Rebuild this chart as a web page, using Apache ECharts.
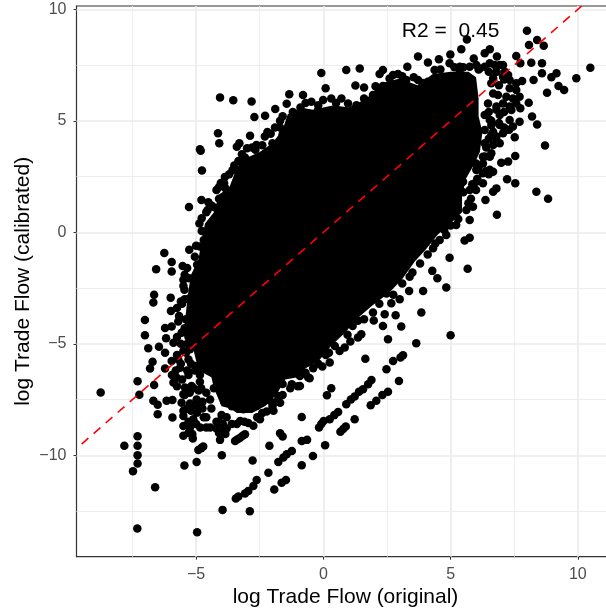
<!DOCTYPE html>
<html><head><meta charset="utf-8">
<style>html,body{margin:0;padding:0;background:#fff}#c{width:606px;height:613px}</style>
<script src="https://cdn.jsdelivr.net/npm/echarts@6/dist/echarts.min.js"></script>
</head><body><div id="c"></div>
<script>
const xTicks=[-5,0,5,10], yTicks=[-10,-5,0,5,10];
const xMinor=[-7.5,-2.5,2.5,7.5], yMinor=[-12.5,-7.5,-2.5,2.5,7.5];
const xRange=[-9.7,11.44], yRange=[-14.55,10.15];
const refLine=[[-9.5,-9.5],[10.15,10.15]];
const annotation=[[5,9,'R2 =  0.45']];
// outline of the saturated black core of the cloud
const coreOutline=[[-4.9,-6.2],[-5.1,-5.3],[-5.5,-4.6],[-5.4,-3.6],[-5.3,-2.6],[-5.2,-1.9],[-4.9,-1.2],[-4.8,-0.4],[-4.65,0.4],[-4.3,0.9],[-4.1,1.7],[-3.7,2.0],[-3.4,2.9],[-3.1,3.3],[-2.5,3.6],[-2.0,4.0],[-1.6,4.6],[-1.4,5.3],[-0.9,5.6],[-0.4,5.5],[0.4,5.7],[1.0,5.6],[1.7,6.0],[2.3,6.7],[3.0,6.9],[3.7,6.6],[4.3,7.1],[5.0,7.2],[5.7,7.2],[6.0,6.95],[6.1,6.0],[6.1,5.2],[6.25,4.5],[6.15,3.6],[5.9,3.0],[5.6,2.4],[5.45,1.6],[5.45,0.9],[5.0,0.4],[4.5,-0.1],[4.0,-0.8],[3.6,-1.3],[3.1,-2.1],[2.6,-2.7],[1.9,-3.3],[1.3,-3.9],[0.85,-4.5],[0.3,-5.1],[-0.2,-5.8],[-0.7,-6.1],[-1.0,-6.5],[-1.5,-6.6],[-1.85,-7.3],[-2.3,-7.8],[-2.8,-8.1],[-3.4,-8.1],[-3.65,-7.9],[-4.0,-7.8],[-4.3,-7.0],[-4.4,-6.5]];
const upperLeft=[[-4.06,6.05],[-3.54,5.92],[-2.82,5.87],[-1.34,6.19],[-1.44,5.77],[-1.89,5.53],[-2.29,5.23],[-2.71,5.17],[-4.14,4.44],[-4.09,3.99],[-2.88,4.33],[-4.85,3.72],[-4.82,3.66],[-4.77,2.77],[-5.28,1.14],[-4.79,1.45],[-4.52,1.35],[-4.78,0.63],[-4.87,0.40],[-4.78,0.06],[-4.85,-0.64],[-5.27,-0.78],[-6.25,-0.93],[-6.57,-1.66],[-5.96,-1.33],[-5.96,-1.76],[-5.53,-1.51],[-6.65,-2.80],[-6.68,-3.15],[-6.0,-2.93],
[-3.4,3.84],[-3.3,3.99],[-3.0,3.77],[-2.63,3.92],[-2.67,3.7],[-2.2,4.5],[-2.07,4.42],[-2.0,3.99],[-2.2,3.6],[-1.6,3.4],[-1.94,3.5],[-3.34,3.2],[-3.08,3.35],[-2.55,3.05],[-3.02,2.57],[-3.57,2.78],[-3.87,2.48],[-4.03,2.21],[-3.44,2.21],[-4.1,2.03],[-3.84,1.96],[-4.34,1.15],[-4.55,1.0],[-4.16,1.0],[-4.22,0.48],[-4.7,-0.34],[-4.96,-1.46],[-4.83,-1.4],[-5.5,-2.13],[-5.28,-2.06],[-5.46,-2.58],[-5.26,-2.96],[-5.6,-3.1],
[-1.6,4.4],[-1.1,5.1],[-1.7,5.0],[-1.3,4.6],[-0.9,5.6],[-0.95,4.3],
[-4.6,0.9],[-4.4,1.2],[-4.1,1.5],[-4.2,1.9],[-3.9,2.2],[-3.7,2.6],[-3.5,3.0],[-3.2,3.5],[-3.05,3.2],[-2.8,3.8],[-2.4,3.9],[-2.3,4.3],[-1.9,4.7],[-1.7,4.7],[-1.6,5.2],[-1.2,5.4],[-5.0,-0.6],[-5.05,-1.1],[-5.35,-1.6],[-5.45,-1.9],[-5.5,-2.4],[-5.45,-3.0]];
const lowerLeft=[[-8.75,-7.19],[-7.30,-6.68],[-7.23,-7.29],[-7.01,-3.93],[-7.01,-4.62],[-6.88,-5.20],[-6.46,-5.13],[-6.71,-5.81],[-6.81,-6.11],[-6.65,-6.85],[-6.68,-7.56],[-6.51,-7.74],[-6.51,-8.16],[-6.16,-7.56],[-5.93,-7.52],[-5.93,-8.31],[-7.30,-9.15],[-7.82,-9.57],[-7.30,-9.57],[-7.30,-10.0],[-7.30,-10.37],[-7.48,-10.72],[-6.61,-11.44],[-7.31,-13.29],[-4.96,-13.45],[-5.46,-10.46],[-4.98,-10.30],[-3.99,-10.0],[-2.78,-10.24],[-3.96,-12.45],[-2.89,-12.51],
[-4.91,-9.76],[-4.8,-9.68],[-4.72,-9.61],[-5.5,-9.13],[-5.13,-9.25],[-4.06,-9.31],[-3.8,-8.8],[-3.95,-8.9],[-4.45,-8.76],[-4.84,-8.76],[-5.24,-8.76],[-5.5,-8.69],[-5.11,-8.39],[-5.5,-8.24],[-4.97,-8.09],[-4.6,-8.3],[-4.2,-8.5],[-4.75,-7.9],[-4.4,-7.9],[-4.0,-8.2],[-5.5,-7.26],[-5.57,-7.64],[-5.24,-7.68],[-4.98,-7.5],[-5.44,-6.96],[-5.18,-6.89],[-5.89,-6.74],[-5.76,-6.52],[-5.96,-5.77],[-6.22,-6.11],[-5.63,-6.07],[-6.22,-4.29],[-5.96,-4.23],[-6.18,-4.75],[-5.89,-4.95],[-6.22,-5.4],[-5.5,-5.32],[-5.24,-5.25],[-5.99,-3.53],[-5.57,-4.5],[-5.67,-3.75],[-5.4,-3.9],[-5.2,-3.4],[-5.3,-4.7],[-5.0,-5.1],[-5.7,-5.7],[-5.3,-5.7],[-5.0,-6.0],[-5.3,-6.4],[-4.85,-6.7],[-4.6,-7.2],[-4.9,-7.1],
[-5.75,-3.4],[-5.55,-3.2],[-5.7,-4.0],[-5.45,-4.3],[-5.75,-4.7],[-5.6,-5.0],[-5.35,-5.0],[-5.75,-5.5],[-5.4,-5.4],[-5.6,-5.9],[-5.2,-5.9],[-5.95,-6.4],[-5.8,-6.2],[-5.35,-6.2],[-5.05,-6.2],[-4.85,-6.4],[-5.75,-6.9],[-5.55,-6.6],[-5.45,-7.3],[-5.25,-7.2],[-5.1,-7.0],[-4.8,-7.0],
[-5.35,-7.9],[-5.5,-8.0],[-5.2,-8.0],[-5.0,-7.8],[-4.75,-7.6],[-4.45,-7.5],[-4.3,-7.0],[-4.7,-8.3],[-5.3,-8.5],[-5.0,-8.6],[-4.6,-8.75],[-4.2,-8.8],[-4.1,-8.5],[-3.95,-8.6],[-3.85,-9.05],[-4.1,-9.0],[-5.3,-9.0],[-5.15,-9.05],
[-3.27,-8.46],[-2.75,-8.68],[-2.49,-8.39],[-3.14,-7.94],[-2.62,-7.79],[-2.23,-8.04],[-1.96,-8.0],[-1.70,-7.64],[-1.77,-7.34],[-2.1,-7.56],[-1.44,-6.37],[-1.24,-6.81],[-0.92,-6.89],[-0.92,-6.44],[-3.6,-7.8],[-3.3,-7.4],[-2.9,-7.5],[-2.5,-7.2],[-2.0,-7.0],[-3.9,-7.6],[-2.35,-7.6],[-1.6,-6.8],
[-3.6,-8.6],[-3.4,-8.6],[-3.1,-8.5],[-2.95,-8.55],[-2.6,-8.3],[-2.4,-8.1],[-2.0,-7.8],[-1.85,-7.6],[-1.6,-7.3],[-1.3,-7.0],[-1.0,-6.9],[-0.6,-6.5],[-3.8,-8.3]];
const lowerBands=[[-3.47,-9.36],[-3.37,-9.28],[-3.27,-9.21],[-3.17,-9.13],[-3.08,-9.06],[-3.44,-11.94],[-3.34,-11.85],[-3.08,-11.72],[-2.95,-11.6],[-2.75,-11.38],[-2.62,-11.11],[-2.16,-10.78],[-1.93,-11.54],[-1.64,-11.23],[-1.47,-11.11],[-2.12,-9.57],[-1.70,-9.01],[-1.60,-9.16],[-1.77,-10.30],[-1.57,-10.1],[-1.44,-9.96],[-1.24,-9.81],[-0.85,-9.36],[-0.85,-10.45],[-0.85,-8.28],[-0.64,-9.31],[0.07,-9.55],[-0.41,-10.03],
[0.31,-6.99],[0.14,-7.31],[2.97,-6.67],[1.89,-6.62],[1.76,-6.82],[1.56,-7.04],[1.4,-7.15],[2.54,-7.15],[2.32,-7.3],[2.08,-7.56],[1.86,-7.76],[1.23,-7.37],[1.08,-7.5],[0.9,-7.71],[0.58,-8.06],[0.43,-8.2],[0.25,-8.39],[0.01,-8.46],[-0.08,-8.6],[-0.17,-8.76],[1.23,-8.39],[0.88,-8.71],[0.78,-8.82],[0.67,-8.95],
[5.0,-4.62],[3.85,-3.6],[3.65,-4.98],[3.06,-4.23],[2.84,-3.72],[2.34,-4.2],[2.41,-3.68],[1.98,-3.96],[2.54,-4.8],[1.36,-3.97],[3.13,-5.51],[3.03,-5.62],[2.74,-5.77],[2.48,-6.14],[1.65,-5.67],[1.49,-4.57],[1.36,-4.72],[1.06,-4.9],[0.84,-5.17],[0.64,-5.32],[0.22,-5.4],[0.25,-5.84],[-0.04,-6.02],[-0.54,-6.55],[-0.2,-5.9]];
const upperRight=[[8.0,9.04],[5.64,8.65],[8.4,8.62],[8.08,8.4],[8.66,8.37],[5.42,8.21],[6.54,8.21],[6.34,8.03],[4.99,7.98],[7.58,7.91],[3.72,7.88],[6.82,7.88],[5.91,7.79],[4.54,7.76],[4.11,7.62],[8.17,7.61],[8.59,7.58],[7.74,7.58],[10.49,7.38],[3.3,7.43],[1.43,7.35],[0.9,7.28],[-0.08,7.15],[2.34,7.28],[2.21,7.1],[8.59,7.13],[9.16,7.13],[8.96,6.95],[9.94,6.91],[8.26,6.83],[7.81,6.79],[9.24,6.56],[9.46,6.38],[8.79,6.26],[1.26,6.58],[1.6,6.49],[0.09,6.46],[8.07,5.81],[8.2,5.19],[8.4,4.84],[8.71,3.89],[8.37,1.82],[8.83,1.51],[7.54,3.42],[7.52,4.26],[7.71,4.96],[7.74,5.56],[7.26,3.17],[6.99,3.12],[7.22,2.38],[7.54,2.2],[6.8,1.97],[6.67,1.82],[6.37,1.45],[6.82,0.79],[5.75,-0.24],[5.55,-0.37],[4.96,-1.14],[5.67,-1.63],[4.28,-1.73],[4.48,-2.06],[4.83,-2.48],[3.92,-2.63],[3.37,-2.63],[3.0,-3.0],[2.67,-3.18],
[-0.47,5.86],[-0.21,5.49],[-0.01,5.93],[0.31,6.0],[0.71,6.0],[0.97,5.78],[0.18,5.19],[-0.8,6.16],[1.95,6.16],[2.34,6.16],[2.34,6.56],[2.74,7.06],[2.93,7.1],[3.26,6.83],[3.72,6.83],[4.24,6.53],[4.37,7.28],[4.96,7.58],[5.36,7.28],[5.75,7.43],[6.34,7.43],[6.93,7.5],[7.13,7.2],[6.67,6.91],[7.32,6.83],[7.58,6.38],[7.71,6.08],[6.86,6.16],[7.19,6.08],[6.47,5.78],[7.06,5.78],[7.39,5.49],[6.93,5.26],[7.32,5.04],[6.34,5.26],[7.06,4.44],[6.67,4.51],[6.34,4.59],[6.67,3.92],[6.6,3.54],[6.27,3.09],[6.67,2.72],[6.01,2.8],[6.27,2.2],[5.49,2.27],[5.75,1.9],[5.88,1.15],[5.62,1.0],[5.75,0.55],[5.22,0.33],[4.83,-0.12],[4.57,-0.34],[4.31,-0.72],[3.39,-1.99],[2.48,-2.74],[6.9,6.6],[7.1,6.85],
[6.5,5.4],[6.8,5.5],[7.1,5.4],[6.6,5.0],[6.9,4.9],[7.1,4.7],[6.6,4.8],[6.5,4.2],[6.8,4.3],[7.3,4.6],[6.4,3.8],[6.35,3.4],[6.1,2.9],[6.4,2.75],[6.5,2.6],[6.05,2.4],[5.85,2.15],[6.0,1.9],[5.5,1.8],[5.8,1.5],[5.7,1.3],[5.3,0.6],[5.0,0.3],[4.75,0.1],[4.4,-0.5],[4.1,-1.0],[3.8,-1.4],[3.5,-1.8],[3.1,-2.3],[2.75,-2.8],[2.2,-3.2],[1.95,-3.6],[1.6,-3.9],[1.15,-4.2],[0.95,-4.6],[0.45,-5.1],[0.1,-5.5],[-0.4,-6.1],[-0.7,-6.3],
[-0.7,5.8],[-0.2,5.7],[0.5,5.8],[1.3,5.7],[1.6,6.0],[2.05,6.55],[2.6,6.9],[3.1,7.0],[3.55,6.95],[3.9,6.7],[4.1,6.75],[4.6,7.3],[5.15,7.4],[5.5,7.4],[6.1,7.3],[6.5,7.2],[6.8,7.2],
[7.32,6.46],[7.58,6.68],[7.06,6.98],[6.8,7.2],[6.6,6.68],[6.67,6.23],[7.45,6.0],[7.58,5.78],[7.32,5.64],[6.8,5.64],[6.54,5.04],[6.93,4.81],[7.45,4.74],[7.19,4.59],[6.8,4.14],[6.6,4.36],[6.34,3.99],[6.93,3.99],[6.54,3.39],[6.27,3.39],[6.0,3.09],[6.27,2.65],[6.54,2.8],[6.01,2.27],[5.36,7.43],[6.01,7.5],[6.14,7.35],[6.54,7.58],[6.73,7.5],[7.06,7.5],[7.26,7.06]];
const points=[...upperLeft,...lowerLeft,...lowerBands,...upperRight];

const ink='#333333', grey='#4d4d4d', gridCol='#ebebeb', font='"Liberation Sans", Arial, sans-serif';
const axisCommon={
  axisLine:{show:true,onZero:false,lineStyle:{color:ink,width:1.1}},
  axisTick:{show:true,length:3,lineStyle:{color:ink,width:1}},
  splitLine:{show:false},
  nameLocation:'middle',
  nameMoveOverlap:false,
  nameTextStyle:{fontFamily:font,fontSize:21,color:'#000'}
};
const mkLines=(axis,vals,w)=>({silent:true,symbol:'none',animation:false,label:{show:false},
  lineStyle:{color:gridCol,width:w,type:'solid'},data:vals.map(v=>({[axis]:v}))});
const lab=(ticks)=>({color:grey,fontSize:16,fontFamily:font,customValues:ticks,
  formatter:v=>String(v).replace('-','\u2212')});
const option={
  animation:false,
  backgroundColor:'#fff',
  grid:{left:76.5,top:6,right:-8.5,bottom:56.3,outerBoundsMode:'none',show:true,borderColor:ink,borderWidth:1.1,backgroundColor:'transparent'},
  xAxis:{type:'value',min:xRange[0],max:xRange[1],name:'log Trade Flow (original)',nameGap:30,
    ...axisCommon,axisTick:{...axisCommon.axisTick,customValues:xTicks},axisLabel:{...lab(xTicks),margin:10}},
  yAxis:{type:'value',min:yRange[0],max:yRange[1],name:'log Trade Flow (calibrated)',nameGap:43,
    ...axisCommon,axisTick:{...axisCommon.axisTick,customValues:yTicks},axisLabel:{...lab(yTicks),margin:10}},
  series:[
    {type:'scatter',name:'gridMinor',data:[],markLine:mkLines('xAxis',xMinor,0.9)},
    {type:'scatter',name:'gridMinorY',data:[],markLine:mkLines('yAxis',yMinor,0.9)},
    {type:'scatter',name:'gridMajor',data:[],markLine:mkLines('xAxis',xTicks,1.7)},
    {type:'scatter',name:'gridMajorY',data:[],markLine:mkLines('yAxis',yTicks,1.7)},
    {type:'custom',name:'core',zlevel:1,z:3,silent:true,data:[coreOutline[0]],
      renderItem:(p,api)=>({type:'polygon',shape:{points:coreOutline.map(c=>api.coord(c))},style:{fill:'#000'}})},
    {type:'scatter',name:'points',zlevel:1,z:4,symbolSize:8.5,silent:true,itemStyle:{color:'#000',opacity:1},data:points},
    {type:'line',name:'fit',zlevel:1,z:5,silent:true,symbol:'none',data:refLine,
      lineStyle:{color:'#ff0000',width:1.6,type:[9,7]}},
    {type:'scatter',name:'label',zlevel:1,z:6,silent:true,symbolSize:1,itemStyle:{opacity:1,color:'transparent'},data:annotation,
      label:{show:true,position:'inside',formatter:p=>p.data[2],color:'#000',fontFamily:font,fontSize:21}}
  ]
};
echarts.init(document.getElementById('c'),null,{renderer:'canvas'}).setOption(option);
</script></body></html>
